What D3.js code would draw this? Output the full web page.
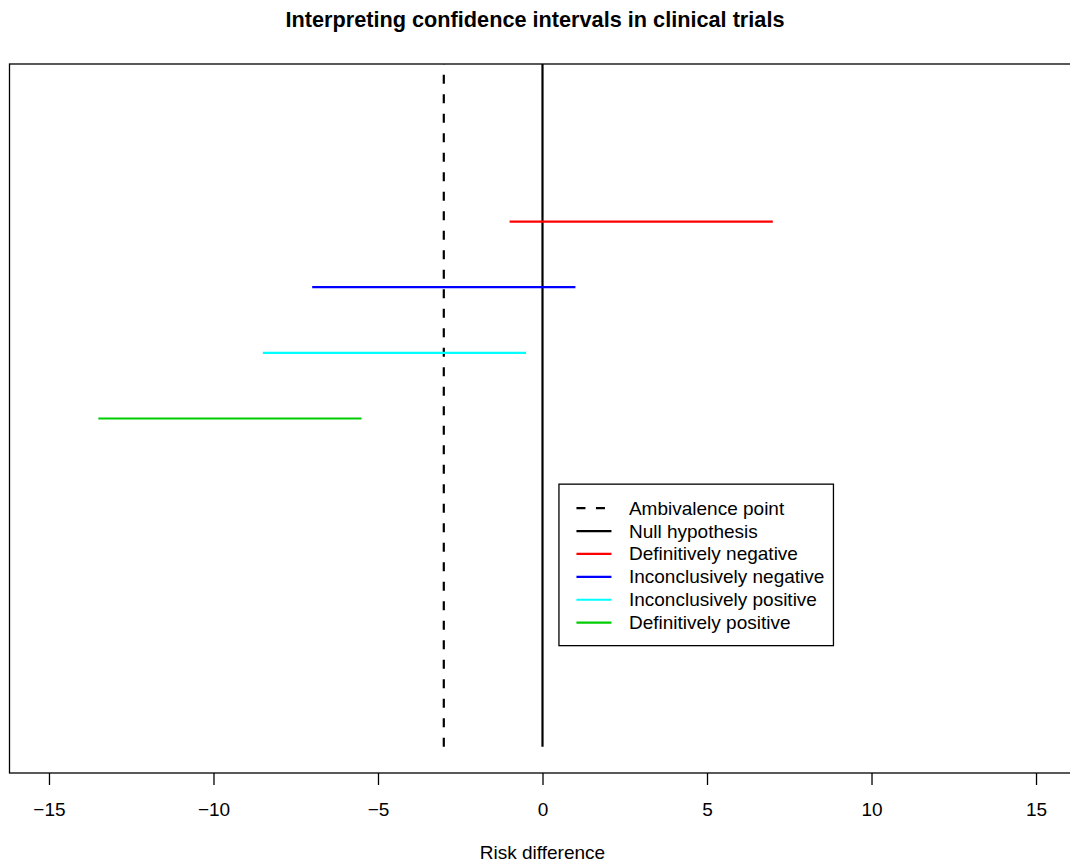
<!DOCTYPE html>
<html>
<head>
<meta charset="utf-8">
<script src="https://cdn.jsdelivr.net/npm/d3@7"></script>
<style>
  body { margin: 0; background: #fff; }
  svg { font-family: "Liberation Sans", Arial, sans-serif; }
</style>
</head>
<body>
<div id="chart"></div>
<script>
// interval data (risk difference)
const labels = ["Definitively negative", "Inconclusively negative", "Inconclusively positive", "Definitively positive"];
const lower = [-1, -7, -8.5, -13.5];
const upper = [7, 1, -0.5, -5.5];
const rows = [8, 7, 6, 5];
const colors = ["#ff0000", "#0000ff", "#00ffff", "#00cd00"];

// reference lines
const ambivalence = -3;
const nullValue = 0;

const xTicks = [-15, -10, -5, 0, 5, 10, 15];
const legendLabels = ["Ambivalence point", "Null hypothesis"].concat(labels);
const legendColors = ["#000", "#000"].concat(colors);

const width = 1070;
const height = 865;
const box = { left: 9.5, right: 1075.5, top: 64, bottom: 773 };
const fontSize = 19;

const svg = d3.select("#chart")
    .append("svg")
    .attr("width", width)
    .attr("height", height);

const x = d3.scaleLinear()
    .domain([-16.2, 16.2])
    .range([box.left, box.right]);

const y = d3.scaleLinear()
    .domain([-0.4, 10.4])
    .range([box.bottom, box.top]);

svg.append("clipPath")
    .attr("id", "clip")
    .append("rect")
    .attr("x", box.left)
    .attr("y", box.top)
    .attr("width", box.right - box.left)
    .attr("height", box.bottom - box.top);

const plot = svg.append("g").attr("clip-path", "url(#clip)");

// vertical reference lines, drawn from y=0 upward
plot.append("line")
    .attr("x1", x(ambivalence)).attr("x2", x(ambivalence))
    .attr("y1", y(0)).attr("y2", y(11))
    .attr("stroke", "#000")
    .attr("stroke-width", 2.2)
    .attr("stroke-dasharray", "9,10.5");

plot.append("line")
    .attr("x1", x(nullValue)).attr("x2", x(nullValue))
    .attr("y1", y(0)).attr("y2", y(11))
    .attr("stroke", "#000")
    .attr("stroke-width", 2.2);

plot.selectAll(".ci")
    .data(labels)
    .enter()
    .append("line")
    .attr("class", "ci")
    .attr("x1", (d, i) => x(lower[i]))
    .attr("x2", (d, i) => x(upper[i]))
    .attr("y1", (d, i) => y(rows[i]))
    .attr("y2", (d, i) => y(rows[i]))
    .attr("stroke", (d, i) => colors[i])
    .attr("stroke-width", 2.2);

// frame
svg.append("rect")
    .attr("x", box.left)
    .attr("y", box.top)
    .attr("width", box.right - box.left)
    .attr("height", box.bottom - box.top)
    .attr("fill", "none")
    .attr("stroke", "#000")
    .attr("stroke-width", 1.3);

// x axis
const axis = svg.append("g")
    .attr("transform", `translate(0,${box.bottom})`)
    .call(d3.axisBottom(x)
        .tickValues(xTicks)
        .tickSize(12)
        .tickSizeOuter(0)
        .tickFormat(d => d < 0 ? "\u2212" + Math.abs(d) : d));

axis.select(".domain").remove();
axis.selectAll("line").attr("stroke", "#000").attr("stroke-width", 1.3);
axis.selectAll("text")
    .attr("y", 43)
    .attr("dy", null)
    .attr("font-size", fontSize)
    .attr("font-family", "Liberation Sans, Arial, sans-serif")
    .attr("fill", "#000");

svg.append("text")
    .attr("x", x(0))
    .attr("y", 859)
    .attr("text-anchor", "middle")
    .attr("font-size", fontSize)
    .text("Risk difference");

svg.append("text")
    .attr("x", 535)
    .attr("y", 27)
    .attr("text-anchor", "middle")
    .attr("font-size", 21.7)
    .attr("font-weight", "bold")
    .text("Interpreting confidence intervals in clinical trials");

// legend, top-left corner at (0.5, 4)
const lx = x(0.5);
const ly = y(4);
const legend = svg.append("g").attr("transform", `translate(${lx},${ly})`);

legend.append("rect")
    .attr("x", 0).attr("y", 0)
    .attr("width", 274.5).attr("height", 161.5)
    .attr("fill", "#fff")
    .attr("stroke", "#000")
    .attr("stroke-width", 1.3);

const items = legend.selectAll(".legend-item")
    .data(legendLabels)
    .enter()
    .append("g")
    .attr("class", "legend-item")
    .attr("transform", (d, i) => `translate(0,${24 + i * 22.9})`);

items.append("line")
    .attr("x1", 17.5).attr("x2", 52.5)
    .attr("y1", 0).attr("y2", 0)
    .attr("stroke", (d, i) => legendColors[i])
    .attr("stroke-width", 2.2)
    .attr("stroke-dasharray", (d, i) => i === 0 ? "9,10.5" : null);

items.append("text")
    .attr("x", 70)
    .attr("y", 6.5)
    .attr("font-size", fontSize)
    .text(d => d);
</script>
</body>
</html>
